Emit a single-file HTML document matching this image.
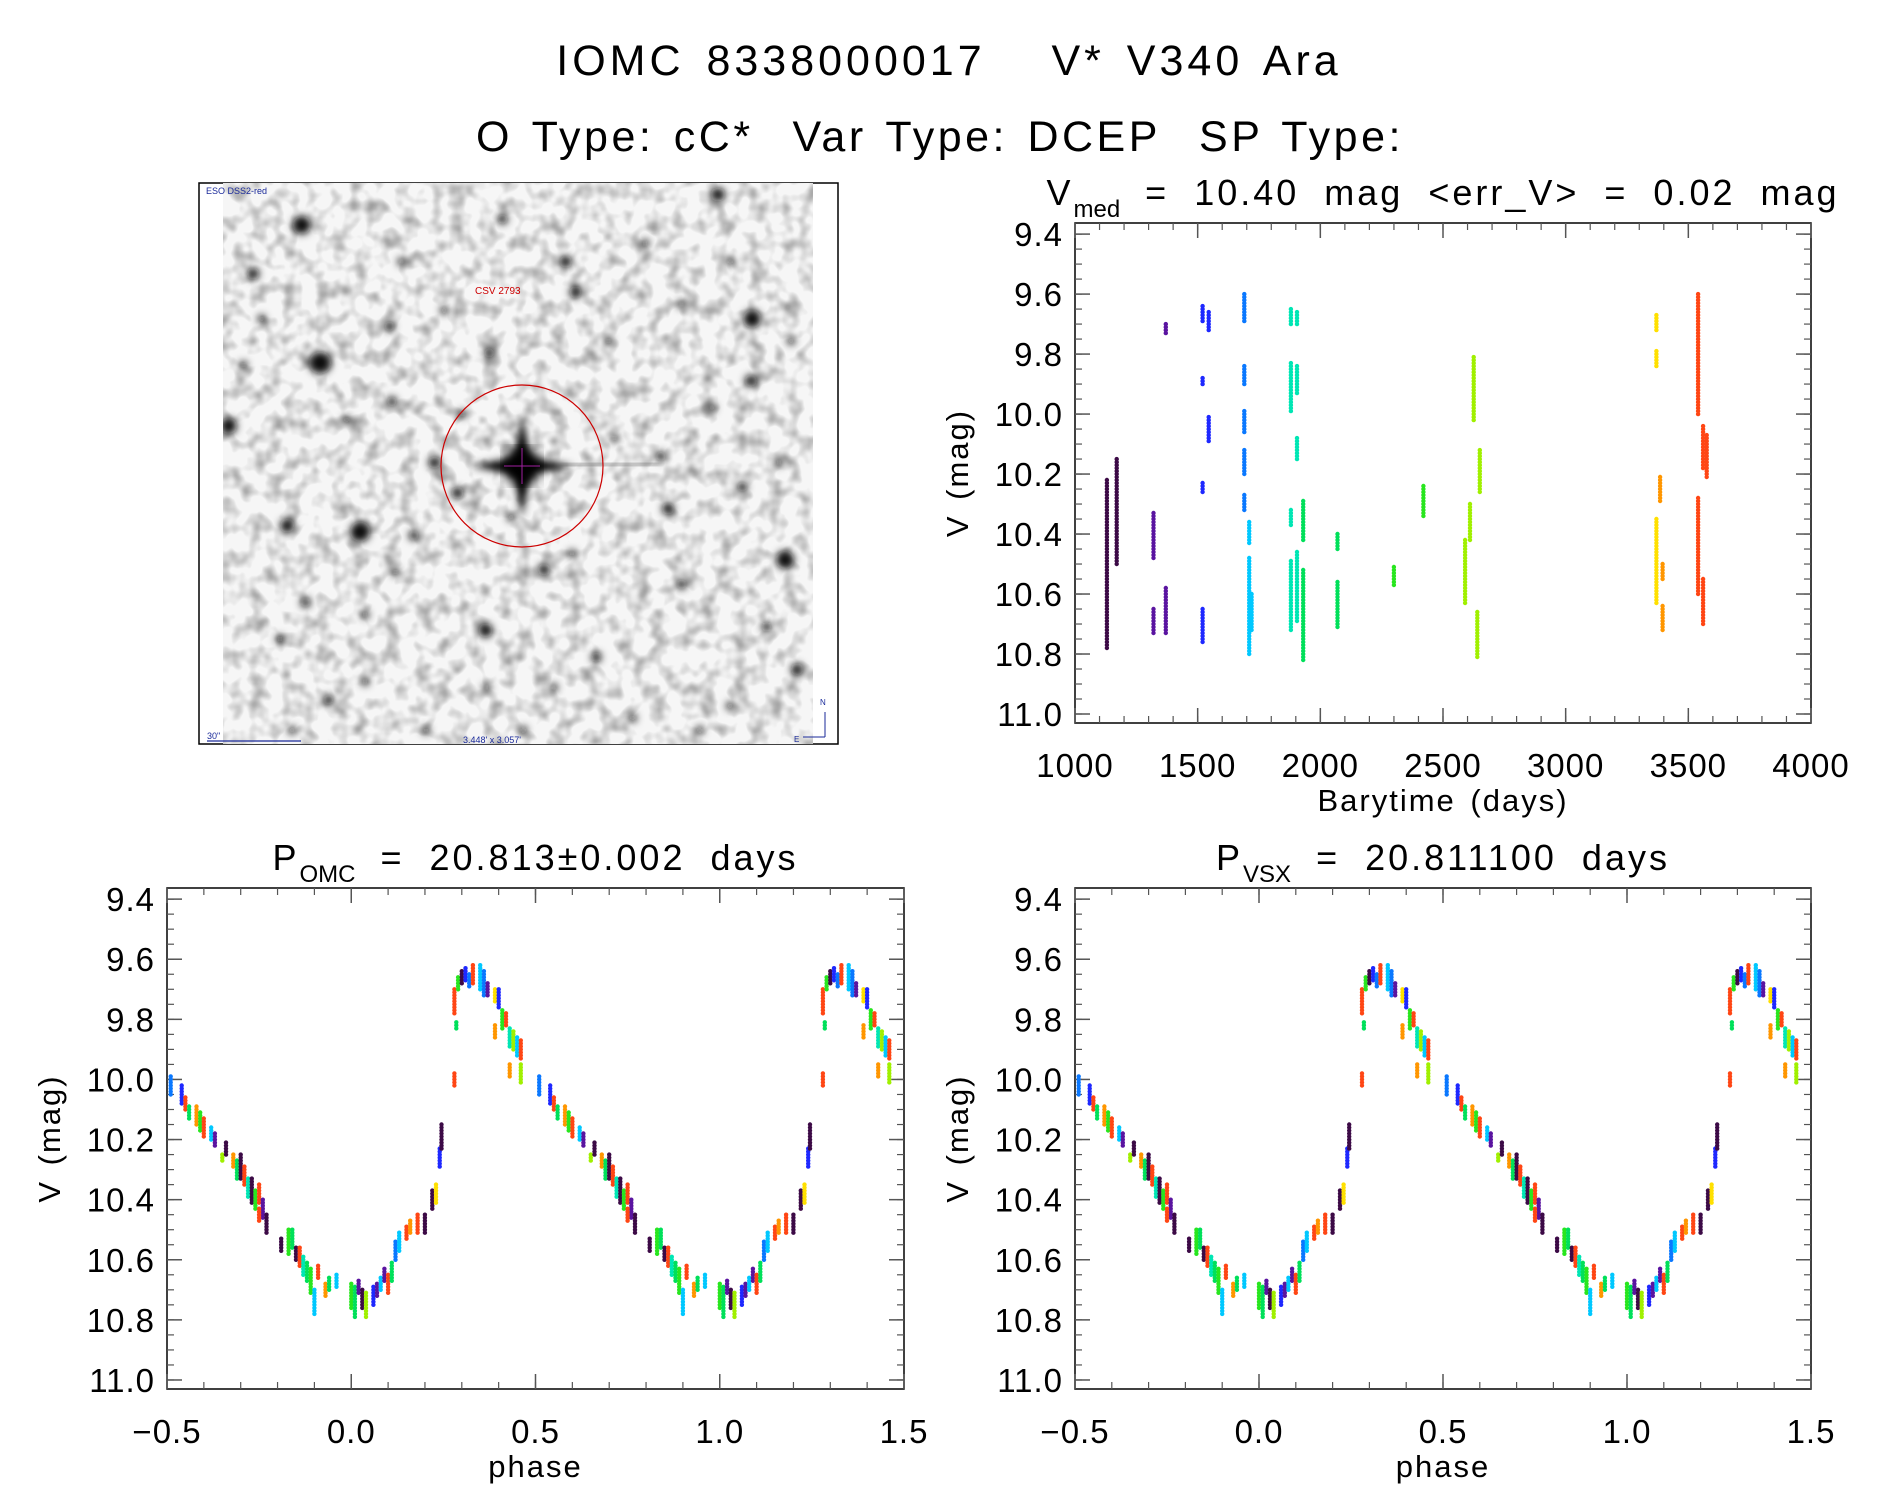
<!DOCTYPE html>
<html><head><meta charset="utf-8"><style>
html,body{margin:0;padding:0;background:#fff;}
svg{display:block;font-family:"Liberation Sans","DejaVu Sans",sans-serif;}
</style></head><body>
<svg id="root" width="1889" height="1494" viewBox="0 0 1889 1494" xmlns="http://www.w3.org/2000/svg">
<defs>
<filter id="blur3"><feGaussianBlur stdDeviation="4"/></filter>
<filter id="blur6"><feGaussianBlur stdDeviation="7"/></filter>
<filter id="grain" x="0" y="0" width="100%" height="100%">
<feTurbulence type="fractalNoise" baseFrequency="0.06" numOctaves="2" seed="7"/>
<feColorMatrix type="matrix" values="0 0 0 0 0  0 0 0 0 0  0 0 0 0 0  0 0 0 -2.2 1.25"/>
</filter>
<clipPath id="imgclip"><rect x="223" y="183" width="590" height="561"/></clipPath>
</defs>
<text x="949" y="75" font-size="43" letter-spacing="4" word-spacing="6" text-anchor="middle">IOMC 8338000017 &#160; V* V340 Ara</text>
<text x="940" y="151" font-size="43" letter-spacing="3.5" word-spacing="4" text-anchor="middle">O Type: cC* &#160;Var Type: DCEP &#160;SP Type:</text>

<g>
<rect x="199" y="183" width="639" height="561" fill="#fff" stroke="#000" stroke-width="1.5"/>
<g clip-path="url(#imgclip)">
<rect x="223" y="183" width="590" height="561" fill="#f6f6f6"/>
<rect x="223" y="183" width="590" height="561" fill="#777" filter="url(#grain)" opacity="0.35"/>
<g id="stars" fill="#111" filter="url(#blur3)"></g>
<g filter="url(#blur6)"><circle cx="522" cy="466" r="18" fill="#000"/></g>
<path d="M470 466 L522 456 L574 466 L522 476Z M522 414 L532 466 L522 518 L512 466Z" fill="#000" filter="url(#blur3)"/>
<line x1="560" y1="466" x2="660" y2="463" stroke="#555" stroke-width="3" filter="url(#blur3)"/>
<ellipse cx="522" cy="466" rx="81" ry="81" fill="none" stroke="#c00" stroke-width="1.2"/>
<line x1="504" y1="466" x2="540" y2="466" stroke="#a020a0" stroke-width="1"/>
<line x1="522" y1="448" x2="522" y2="484" stroke="#a020a0" stroke-width="1"/>
<text x="475" y="294" font-size="10" fill="#c00">CSV 2793</text>
<text x="463" y="743" font-size="9" fill="#1a2a9a">3.448' x 3.057'</text>
</g>
<text x="206" y="194" font-size="9" fill="#1a2a9a">ESO DSS2-red</text>
<text x="207" y="739" font-size="9" fill="#1a2a9a">30"</text>
<line x1="207" y1="741" x2="301" y2="741" stroke="#1a2a9a" stroke-width="1.2"/>
<line x1="825" y1="712" x2="825" y2="737" stroke="#1a2a9a" stroke-width="1"/>
<line x1="803" y1="737" x2="825" y2="737" stroke="#1a2a9a" stroke-width="1"/>
<text x="820" y="705" font-size="8" fill="#1a2a9a">N</text>
<text x="794" y="742" font-size="8" fill="#1a2a9a">E</text>
</g>

<g id="ts"></g>
<g id="ph1"></g>
<g id="ph2"></g>
</svg>
<script>
// ---------- time-series data (clusters of observations) ----------
const segTime = [1130,1170,1320,1320,1370,1370,1520,1520,1520,1520,1545,1545,1690,1690,1690,1690,1690,1710,1710,1720,1880,1880,1880,1880,1905,1905,1905,1905,1930,1930,2070,2070,2300,2420,2590,2610,2625,2640,2650,3370,3370,3370,3385,3395,3395,3540,3540,3560,3560,3575];
const segMagTop = [10.22,10.15,10.33,10.65,9.70,10.58,9.64,9.88,10.23,10.65,9.66,10.01,9.60,9.84,9.99,10.12,10.27,10.36,10.48,10.60,9.65,9.83,10.32,10.49,9.66,9.84,10.08,10.46,10.29,10.52,10.40,10.56,10.51,10.24,10.42,10.30,9.81,10.66,10.12,9.67,9.79,10.35,10.21,10.50,10.64,9.60,10.28,10.04,10.55,10.07];
const segMagBot = [10.78,10.50,10.48,10.73,9.73,10.73,9.69,9.90,10.26,10.76,9.72,10.09,9.69,9.90,10.06,10.20,10.32,10.43,10.80,10.72,9.70,9.99,10.37,10.72,9.70,9.93,10.15,10.69,10.42,10.82,10.45,10.71,10.57,10.34,10.63,10.42,10.02,10.81,10.26,9.72,9.84,10.63,10.29,10.55,10.72,10.00,10.60,10.18,10.70,10.21];
const segColor = [0,0,1,1,1,1,2,2,2,2,2,2,3,3,3,3,3,4,4,4,5,5,5,5,5,5,5,5,6,6,6,6,7,7,8,8,8,8,8,9,9,9,10,10,10,11,11,11,11,11];
const tsXTicks = [1000,1500,2000,2500,3000,3500,4000];
const magTicks = [9.4,9.6,9.8,10.0,10.2,10.4,10.6,10.8,11.0];
// ---------- folded light curve data ----------
const phPhase = [-0.49,-0.46,-0.45,-0.44,-0.42,-0.41,-0.40,-0.38,-0.37,-0.35,-0.34,-0.32,-0.31,-0.30,-0.29,-0.28,-0.27,-0.26,-0.25,-0.24,-0.25,-0.23,-0.19,-0.17,-0.16,-0.15,-0.14,-0.13,-0.12,-0.11,-0.10,-0.09,-0.07,-0.06,-0.04,0.00,0.01,0.02,0.03,0.04,0.06,0.07,0.08,0.09,0.10,0.11,0.12,0.13,0.15,0.16,0.18,0.20,0.22,0.23,0.24,0.245,0.28,0.285,0.28,0.29,0.30,0.31,0.32,0.33,0.35,0.36,0.37,0.39,0.40,0.39,0.41,0.42,0.43,0.44,0.45,0.46,0.43,0.46];
const phMag = [10.02,10.05,10.08,10.11,10.12,10.14,10.16,10.18,10.20,10.26,10.23,10.27,10.30,10.29,10.32,10.36,10.37,10.40,10.38,10.43,10.45,10.48,10.55,10.54,10.53,10.58,10.59,10.62,10.64,10.67,10.74,10.64,10.70,10.68,10.67,10.72,10.74,10.69,10.73,10.75,10.72,10.70,10.68,10.65,10.68,10.64,10.57,10.54,10.51,10.49,10.48,10.48,10.40,10.38,10.26,10.19,9.74,9.82,10.00,9.68,9.66,9.65,9.67,9.65,9.66,9.68,9.70,9.72,9.73,9.84,9.80,9.80,9.86,9.87,9.89,9.90,9.97,9.98];
const phSpread = [0.03,0.03,0.02,0.02,0.03,0.03,0.03,0.02,0.02,0.01,0.02,0.02,0.03,0.04,0.03,0.03,0.04,0.03,0.03,0.03,0.02,0.03,0.02,0.04,0.03,0.02,0.03,0.03,0.03,0.04,0.04,0.02,0.02,0.02,0.02,0.04,0.05,0.02,0.03,0.04,0.03,0.02,0.02,0.02,0.03,0.03,0.03,0.03,0.02,0.02,0.03,0.03,0.03,0.03,0.03,0.04,0.04,0.01,0.02,0.02,0.02,0.02,0.02,0.03,0.04,0.04,0.02,0.02,0.03,0.02,0.03,0.02,0.03,0.03,0.03,0.03,0.02,0.03];
const phColor = [3,2,11,6,10,7,11,4,1,8,0,10,6,0,11,5,0,7,11,1,11,0,0,7,6,0,11,5,6,7,4,11,10,6,4,7,6,1,0,8,2,1,4,1,11,6,3,4,11,10,11,0,0,9,2,0,11,6,11,7,0,2,3,11,4,3,1,9,2,10,7,11,5,8,4,11,10,8];
const phXTicks = [-0.5,0.0,0.5,1.0,1.5];
const phXLabels = ["\u22120.5","0.0","0.5","1.0","1.5"];

const palette = ["#3c0a46","#5a14a0","#1e28ff","#0a78ff","#00c8ff","#00e6b4","#00e05a","#28e61e","#a0f000","#ffe000","#ff9600","#ff4614"];
const NS = "http://www.w3.org/2000/svg";
function mk(tag, attrs, parent){const e=document.createElementNS(NS,tag);for(const k in attrs)e.setAttribute(k,attrs[k]);parent.appendChild(e);return e;}

const MAG0 = 9.363, MAG1 = 11.03;
function makeAxes(g, L, T, R, B, xmin, xmax, xMajor, xMinorStep, xLabels, title, sub, titleRest, xTitle){
  const xs = v => L + (v - xmin) / (xmax - xmin) * (R - L);
  const ys = m => T + (m - MAG0) / (MAG1 - MAG0) * (B - T);
  const frame = mk('rect',{x:L,y:T,width:R-L,height:B-T,fill:'none',stroke:'#000','stroke-width':1.5},g);
  
  
  for (let i=0;i<magTicks.length;i++){
    const y = ys(magTicks[i]);
    mk('line',{x1:L,y1:y,x2:L+15,y2:y,stroke:'#555','stroke-width':1.5},g);
    mk('line',{x1:R,y1:y,x2:R-15,y2:y,stroke:'#555','stroke-width':1.5},g);
    const t = mk('text',{x:L-12,y:y+12,'font-size':33,'letter-spacing':1,'text-anchor':'end'},g);
    t.textContent = magTicks[i].toFixed(1);
    
    
  }
  for (let m=9.4; m<11.02; m+=0.05){
    const y = ys(m);
    mk('line',{x1:L,y1:y,x2:L+7,y2:y,stroke:'#555','stroke-width':1.2},g);
    mk('line',{x1:R,y1:y,x2:R-7,y2:y,stroke:'#555','stroke-width':1.2},g);
  }
  for (let v=xmin; v<=xmax+1e-9; v+=xMinorStep){
    const x = xs(v);
    mk('line',{x1:x,y1:B,x2:x,y2:B-7,stroke:'#555','stroke-width':1.2},g);
    mk('line',{x1:x,y1:T,x2:x,y2:T+7,stroke:'#555','stroke-width':1.2},g);
  }
  for (let i=0;i<xMajor.length;i++){
    const x = xs(xMajor[i]);
    mk('line',{x1:x,y1:B,x2:x,y2:B-15,stroke:'#555','stroke-width':1.5},g);
    mk('line',{x1:x,y1:T,x2:x,y2:T+15,stroke:'#555','stroke-width':1.5},g);
    const t = mk('text',{x:x,y:B+54,'font-size':33,'letter-spacing':1,'text-anchor':'middle'},g);
    t.textContent = xLabels[i];
    
    
  }
  const xt = mk('text',{x:(L+R)/2,y:B+88,'font-size':31,'letter-spacing':2,'word-spacing':4,'text-anchor':'middle'},g);
  xt.textContent = xTitle;
  
  
  const yt = mk('text',{x:0,y:0,'font-size':31,'letter-spacing':2,'word-spacing':4,'text-anchor':'middle',transform:`translate(${L-107},${(T+B)/2}) rotate(-90)`},g);
  yt.textContent = 'V (mag)';
  
  
  const tt = mk('text',{x:(L+R)/2,y:T-18,'font-size':36,'letter-spacing':3,'word-spacing':12,'text-anchor':'middle'},g);
  
  
  const a = mk('tspan',{},tt); a.textContent = title;
  const b = mk('tspan',{dy:12,'font-size':24,'letter-spacing':0},tt); b.textContent = sub;
  const c = mk('tspan',{dy:-12},tt); c.textContent = titleRest;
  return {xs, ys};
}

function dot(g,x,y,col){const c=mk('circle',{cx:x.toFixed(1),cy:y.toFixed(1),r:2.2,fill:col},g);return c;}

{
  const g = document.getElementById('ts');
  const {xs, ys} = makeAxes(g,1075,223,1811,723,1000,4000,tsXTicks,100,tsXTicks.map(String),'V','med',' = 10.40 mag <err_V> = 0.02 mag','Barytime (days)');
  const pts = mk('g',{},g);
  
  
  for (let i=0;i<segTime.length;i++){
    const seg = mk('g',{},pts);
    
    
    for (let m=segMagTop[i]; m<=segMagBot[i]+1e-6; m+=0.01){
      dot(seg, xs(segTime[i]), ys(m), palette[segColor[i]]);
    }
  }
}
function phasePlot(id, L, R, sub, rest){
  const g = document.getElementById(id);
  const {xs, ys} = makeAxes(g,L,888,R,1389,-0.5,1.5,phXTicks,0.1,phXLabels,'P',sub,rest,'phase');
  const pts = mk('g',{},g);
  
  
  for (let k=0;k<2;k++){
    for (let i=0;i<phPhase.length;i++){
      const p = phPhase[i] + k;
      if (p < -0.5 || p > 1.5) continue;
      const seg = mk('g',{},pts);
      
      
      for (let m=phMag[i]-phSpread[i]; m<=phMag[i]+phSpread[i]+1e-6; m+=0.01){
        dot(seg, xs(p), ys(m), palette[phColor[i]]);
      }
    }
  }
}
phasePlot('ph1',167,904,'OMC',' = 20.813\u00b10.002 days');
phasePlot('ph2',1075,1811,'VSX',' = 20.811100 days');

const stars = [[248,185,9],[590,160,7],[413,180,5],[465,215,6],[263,298,11],[320,268,5],[618,262,9],[473,240,6],[296,437,10],[236,432,7],[399,518,7],[447,468,6],[549,418,6],[645,460,9],[617,313,6],[188,350,8],[208,225,6],[376,405,6],[322,330,5],[357,380,6],[560,480,5],[543,375,5],[251,495,5],[402,290,5],[490,540,5],[655,550,6],[520,590,4],[270,575,5],[300,560,4],[230,525,4],[610,400,5],[330,215,4],[500,280,4],[560,250,4],[430,600,4],[350,600,4],[600,580,4],[640,380,4],[200,300,4],[380,340,4],[215,262,4],[285,345,4],[340,440,5],[420,425,4],[470,455,4],[505,360,4],[585,335,4],[630,515,5],[575,600,4],[455,565,4],[300,505,4],[240,600,4],[365,255,4],[530,200,4],[600,215,4],[650,280,4],[400,565,4],[325,470,4]];
const sg = document.getElementById('stars');
for (const s of stars){
  mk('circle',{cx:(s[0]*1.217).toFixed(1),cy:(s[1]*1.217).toFixed(1),r:s[2]},sg);
}
</script>
</body></html>
